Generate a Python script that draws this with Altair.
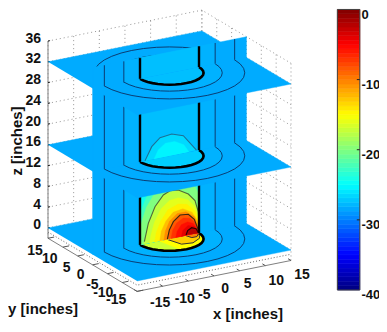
import altair as alt
import pandas as pd

# ---- data (inches / dB) ----
X_TICKS = [-15, -10, -5, 0, 5, 10, 15]
Y_TICKS = [15, 10, 5, 0, -5, -10, -15]
Z_TICKS = [0, 4, 8, 12, 16, 20, 24, 28, 32, 36]
Z_FLOOR = -2
Z_TOP = 36
PLANE_LEVELS = [0, 16, 32]
RING_RADII = [12.7, 8.9]
CORE_RADIUS = 5.75
BASE_DB = -28.3
RING_DB = -28.0
CORE_DB = -27.5
BAR_TICKS = [0, -10, -20, -30, -40]
N_COLORS = 64

# contour levels on the y=0 wall, lowest level: (x, z, dB region)
WALL_BANDS = [
    (-24.5, [(-5.75, 0), (-5.75, 16), (5.75, 16), (5.75, 0)]),
    (-22.5, [(-5.75, 0), (-5.75, 6), (-4.5, 9), (-2.5, 12), (0, 14), (2.5, 14), (4.5, 12), (5.75, 9.5), (5.75, 0)]),
    (-20.0, [(-5.75, 0), (-5.75, 3.5), (-4.5, 7), (-2.5, 10), (0, 11.3), (2.5, 11), (4.5, 10), (5.75, 7.5), (5.75, 0)]),
    (-17.5, [(-5.1, 0), (-4.9, .45), (-4.13, 3.84), (-2.83, 6.79), (-1.2, 8.72), (.1, 9.29), (1.72, 9.1), (3.67, 7.94), (4.97, 6.4), (5.62, 4.14), (5.75, 1.23), (5.75, 0)]),
    (-16.0, [(-3.9, 0), (-3.6, 1.6), (-2.9, 3.9), (-1.6, 6.2), (0, 7.4), (1.7, 7.6), (3.5, 6.9), (5, 5.2), (5.75, 2.6), (5.75, 0)]),
    (-14.5, [(-2.9, 0), (-2.6, 1.7), (-1.7, 3.8), (-.3, 5.7), (1.7, 6.4), (3.4, 6), (5, 4.4), (5.75, 2.2), (5.75, 0)]),
    (-12.5, [(-1.9, 0), (-1.6, 1.8), (-.7, 3.6), (.7, 5), (2.6, 5.3), (4.4, 4.3), (5.5, 2.4), (5.75, 0)]),
    (-10.5, [(-1.1, 0), (-.8, 1.7), (0, 3.4), (1.5, 4.6), (3.2, 4.6), (4.8, 3.4), (5.6, 1.4), (5.75, 0)]),
    (-8.5, [(-.42, .08), (-.03, 1.73), (.75, 3.19), (2.05, 4.22), (3.67, 4.03), (4.84, 2.83), (5.5, .97), (5.75, 0)]),
    (-7.0, [(.3, 0), (.6, 1.5), (1.4, 2.8), (2.7, 3.5), (4, 3.2), (5, 2.2), (5.6, .7), (5.75, 0)]),
    (-5.5, [(1.2, 0), (1.5, 1.2), (2.3, 2.3), (3.5, 2.6), (4.6, 2.1), (5.4, .9), (5.7, 0)]),
    (-4.0, [(2.3, 0), (2.6, 1.1), (3.6, 1.9), (4.8, 1.5), (5.6, .3)]),
    (-2.2, [(3.22, .13), (3.54, .9), (4.32, 1.32), (5.17, .96), (5.69, 0)]),
]
WALL_CONTOURS = [
    [(-4.9, .45), (-4.13, 3.84), (-2.83, 6.79), (-1.2, 8.72), (.1, 9.29), (1.72, 9.1), (3.67, 7.94), (4.97, 6.4), (5.62, 4.14), (5.75, 1.23)],
    [(-.42, .08), (-.03, 1.73), (.75, 3.19), (2.05, 4.22), (3.67, 4.03), (4.84, 2.83), (5.5, .97), (5.75, 0)],
    [(3.22, .13), (3.54, .9), (4.32, 1.32), (5.17, .96), (5.69, 0)],
]
FLOOR_BANDS = [
    (-17.0, None),
    (-15.0, [(-2, 0), (-1, -5.2), (1, -5.66), (3, -4.9), (5, -2.8), (5.75, 0)]),
    (-13.0, [(-.42, 0), (.5, -3.2), (2.5, -3.6), (4.6, -2.2), (5.75, 0)]),
    (-10.0, [(3.22, 0), (3.6, -1.3), (4.6, -1.3), (5.69, 0)]),
]
# dome on the y=0 wall, middle level (x, z above plane)
DOME = [(-4.78, 0), (-3.47, 2.48), (-1.85, 3.9), (.43, 4.15), (2.7, 3.37), (4.33, 1.26), (5.25, .1)]
DOME_INNER = [(-3, 0), (-2.2, 1.6), (-.8, 2.6), (1, 2.6), (2.8, 1.6), (3.8, 0)]
DOME_DB = -26.5
DOME_INNER_DB = -25.4
ANGLES = list(range(0, 361, 10))
HALF_ANGLES = list(range(180, 361, 10))

X_LABEL_SHIFT = [(23, 12), (22, 13), (16, 14), (11, 13.5), (8, 13), (11, 15), (11, 15)]
Y_LABEL_SHIFT = [(-13, 13), (-13, 12), (-11, 12), (-12, 10.5), (-15, 11), (-19, 10), (-21, 9)]


# ---- helpers ----
def proj(x, y, z):
    return 169.5 + 5.13 * x - 2.97 * y, 239 - 1.03 * x - 1.77 * y - 5.19 * z


def jet(v):
    t = (v + 40) / 40
    def ch(a):
        return max(0.0, min(1.0, 1.5 - abs(4 * t - a)))
    r, g, b = ch(3), ch(2), ch(1)
    return "#%02x%02x%02x" % (round(r * 255), round(g * 255), round(b * 255))


XS = alt.Scale(domain=[8, 360], zero=False, nice=False)
YS = alt.Scale(domain=[324, 8], zero=False, nice=False)


def enc(chart):
    return chart.encode(
        x=alt.X("u:Q", scale=XS, axis=None),
        y=alt.Y("v:Q", scale=YS, axis=None),
        order=alt.Order("i:Q"),
    )


def frame(pts3):
    rows = []
    for i, (x, y, z) in enumerate(pts3):
        u, v = proj(x, y, z)
        rows.append({"u": u, "v": v, "i": i})
    return pd.DataFrame(rows)


def fill(pts3, v):
    c = jet(v)
    return enc(alt.Chart(frame(pts3)).mark_line(fill=c, stroke=c, strokeWidth=0.4))


def stroke(pts3, color="#0b3d73", width=1.0, dash=None):
    kw = {"strokeDash": dash} if dash else {}
    return enc(alt.Chart(frame(pts3)).mark_line(stroke=color, strokeWidth=width, **kw))


def circle(r, z, angles=ANGLES):
    import math
    return [(r * math.cos(math.radians(a)), r * math.sin(math.radians(a)), z) for a in angles]


def wall(xz, dz=0.0):
    return [(x, 0, z + dz) for x, z in xz]


layers = []

# ---- box and dotted grid ----
GRID = "#8a8a8a"
for z in Z_TICKS:
    layers.append(stroke([(-15, 15, z), (15, 15, z), (15, -15, z)], GRID, 0.9, [1, 3]))
for x in X_TICKS:
    layers.append(stroke([(x, 15, Z_FLOOR), (x, 15, Z_TOP)], GRID, 0.9, [1, 3]))
for y in Y_TICKS:
    layers.append(stroke([(15, y, Z_FLOOR), (15, y, Z_TOP)], GRID, 0.9, [1, 3]))
layers.append(stroke([(-15, 15, Z_TOP), (-15, 15, Z_FLOOR), (-15, -15, Z_FLOOR), (15, -15, Z_FLOOR)], "#808080", 1.0))
layers.append(stroke([(-15, 15, -.8), (-15, -15, -.8), (15, -15, -.8)], "#666666", 1.0, [1, 2]))
for z in Z_TICKS:
    layers.append(stroke([(-15, 15, z), (-14.6, 15, z)], "#222222", 1.0))
for x in X_TICKS:
    layers.append(stroke([(x, -15, Z_FLOOR), (x, -14, Z_FLOOR)], "#555555", 1.0))
for y in Y_TICKS:
    layers.append(stroke([(-15, y, Z_FLOOR), (-13.8, y, Z_FLOOR)], "#555555", 1.0))


def plane(z):
    out = [fill([(-15, 15, z), (15, 15, z), (15, -15, z), (-15, -15, z)], BASE_DB)]
    out.append(fill(circle(RING_RADII[1], z), RING_DB))
    if z == 0:
        for db, pts in FLOOR_BANDS:
            p = circle(CORE_RADIUS, z, HALF_ANGLES) if pts is None else [(x, y, z) for x, y in pts]
            out.append(fill(p, db))
        for db, pts in FLOOR_BANDS[2:]:
            out.append(stroke([(x, y, z) for x, y in pts], "#333333", 1.0))
    else:
        out.append(fill(circle(CORE_RADIUS, z, HALF_ANGLES), CORE_DB + (0.6 if z == 16 else 0)))
    for r in RING_RADII:
        out.append(stroke(circle(r, z)))
    out.append(stroke(circle(CORE_RADIUS, z, HALF_ANGLES), "#000000", 2.6))
    return out


def wall_seg(z0, z1):
    out = [
        fill(wall([(-15, z0), (-15, z1), (15, z1), (15, z0)]), BASE_DB),
        fill(wall([(-RING_RADII[1], z0), (-RING_RADII[1], z1), (RING_RADII[1], z1), (RING_RADII[1], z0)]), RING_DB),
        fill(wall([(-CORE_RADIUS, z0), (-CORE_RADIUS, z1), (CORE_RADIUS, z1), (CORE_RADIUS, z0)]), CORE_DB),
    ]
    if z0 == 0:
        for db, pts in WALL_BANDS:
            out.append(fill(wall(pts), db))
        for c, col in zip(WALL_CONTOURS, ["#4d6a3a", "#3a2a10", "#2a0000"]):
            out.append(stroke(wall(c), col, 1.1))
    if z0 == 16:
        out.append(fill(wall(DOME, 16), DOME_DB))
        out.append(fill(wall(DOME_INNER, 16), DOME_INNER_DB))
        out.append(stroke(wall(DOME, 16), "#1d6f96", 1.1))
    for r in RING_RADII:
        for s in (-1, 1):
            out.append(stroke(wall([(s * r, z0), (s * r, z1)])))
    for s in (-1, 1):
        out.append(stroke(wall([(s * CORE_RADIUS, z0), (s * CORE_RADIUS, z1)]), "#000000", 2.4))
    return out


layers += plane(0) + wall_seg(0, 16) + plane(16) + wall_seg(16, 32) + plane(32) + wall_seg(32, Z_TOP)

# ---- tick labels and titles ----
FONT = "Liberation Sans"
label_rows = []
for z in Z_TICKS:
    u, v = proj(-15, 15, z)
    label_rows.append({"u": u - 7, "v": v - 2.5, "t": str(z)})
z_labels = pd.DataFrame(label_rows)
layers.append(alt.Chart(z_labels).mark_text(align="right", baseline="middle", font=FONT, fontWeight="bold", fontSize=14, color="#111111").encode(
    x=alt.X("u:Q", scale=XS, axis=None), y=alt.Y("v:Q", scale=YS, axis=None), text="t:N"))

rows = []
for x, (du, dv) in zip(X_TICKS, X_LABEL_SHIFT):
    u, v = proj(x, -15, Z_FLOOR)
    rows.append({"u": u + du, "v": v + dv, "t": str(x)})
for y, (du, dv) in zip(Y_TICKS, Y_LABEL_SHIFT):
    u, v = proj(-15, y, Z_FLOOR)
    rows.append({"u": u + du, "v": v + dv, "t": str(y)})
layers.append(alt.Chart(pd.DataFrame(rows)).mark_text(align="center", baseline="middle", font=FONT, fontWeight="bold", fontSize=14, color="#111111").encode(
    x=alt.X("u:Q", scale=XS, axis=None), y=alt.Y("v:Q", scale=YS, axis=None), text="t:N"))

titles = pd.DataFrame([
    {"u": 43, "v": 309, "t": "y [inches]", "a": 0},
    {"u": 248, "v": 314, "t": "x [inches]", "a": 0},
])
layers.append(alt.Chart(titles).mark_text(align="center", baseline="middle", font=FONT, fontWeight="bold", fontSize=15, color="#111111").encode(
    x=alt.X("u:Q", scale=XS, axis=None), y=alt.Y("v:Q", scale=YS, axis=None), text="t:N"))
layers.append(alt.Chart(pd.DataFrame([{"u": 16.5, "v": 141, "t": "z [inches]"}])).mark_text(
    align="center", baseline="middle", angle=270, font=FONT, fontWeight="bold", fontSize=15, color="#111111").encode(
    x=alt.X("u:Q", scale=XS, axis=None), y=alt.Y("v:Q", scale=YS, axis=None), text="t:N"))

main = alt.layer(*layers)

# ---- colour bar ----
BS = alt.Scale(domain=[-44.85, 0.21], zero=False, nice=False)
step = 40 / N_COLORS
bar = pd.DataFrame({
    "lo": [-40 + k * step for k in range(N_COLORS)],
    "hi": [-40 + (k + 1) * step for k in range(N_COLORS)],
    "c": [jet(-40 + (k + .5) * step) for k in range(N_COLORS)],
})
bar_axis = alt.Axis(orient="right", values=BAR_TICKS, labelExpr="'' + datum.value", domain=False, ticks=False, grid=False, title=None,
                    labelFont=FONT, labelFontWeight="bold", labelFontSize=13, labelColor="#111111",
                    labelPadding=1, labelOffset=5)
cells = alt.Chart(bar).mark_rect(strokeWidth=0.6).encode(
    x=alt.value(329.4), x2=alt.value(351.8),
    y=alt.Y("lo:Q", scale=BS, axis=bar_axis), y2="hi:Q",
    color=alt.Color("c:N", scale=None),
    stroke=alt.Stroke("c:N", scale=None),
)
box = alt.Chart(pd.DataFrame({"lo": [-40], "hi": [0]})).mark_rect(fill=None, stroke="#444444", strokeWidth=1).encode(
    x=alt.value(329.4), x2=alt.value(351.8),
    y=alt.Y("lo:Q", scale=BS, axis=bar_axis), y2="hi:Q",
)
inner = alt.Chart(pd.DataFrame({"lo": BAR_TICKS[1:-1]})).mark_rule(stroke="#222222").encode(
    x=alt.value(348.8), x2=alt.value(351.8),
    y=alt.Y("lo:Q", scale=BS, axis=bar_axis),
)
colorbar = alt.layer(cells, box, inner)

chart = alt.layer(main, colorbar).resolve_scale(y="independent").properties(
    width=352, height=316,
    padding={"left": 0, "top": 0, "right": 19, "bottom": 0},
    autosize=alt.AutoSizeParams(type="none"),
    background="white",
).configure_view(stroke=None)

chart.save("out.html", embed_options={"renderer": "svg", "actions": False})
